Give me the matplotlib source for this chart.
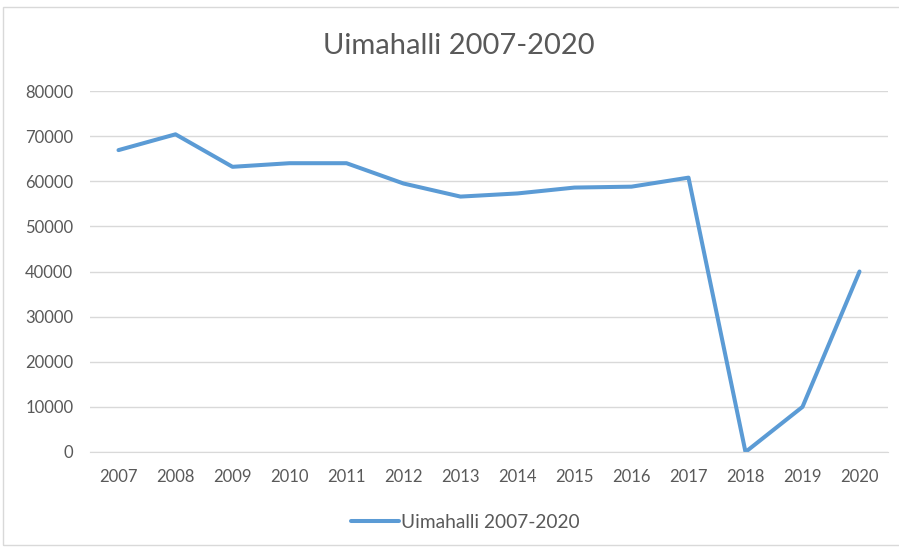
import matplotlib.pyplot as plt
from matplotlib.patches import Rectangle

years = ["2007", "2008", "2009", "2010", "2011", "2012", "2013",
         "2014", "2015", "2016", "2017", "2018", "2019", "2020"]
visitors = [66900, 70400, 63200, 64000, 64000, 59500, 56600,
            57300, 58600, 58800, 60800, 0, 10000, 40000]
series_name = "Uimahalli 2007-2020"

plt.rcParams["font.family"] = ["Lato", "DejaVu Sans"]

fig = plt.figure(figsize=(8.99, 5.49), dpi=100)
fig.patch.set_facecolor("white")

# thin chart-area frame
fig.patches.append(Rectangle((3 / 899, 4 / 549), 1.0, 1 - 11 / 549,
                             transform=fig.transFigure, fill=False,
                             edgecolor="#D9D9D9", linewidth=1))

ax = fig.add_axes([90 / 899, (549 - 452) / 549, 798 / 899, 361 / 549])
x = range(len(years))
ax.plot(x, visitors, color="#5B9BD5", linewidth=2.9,
        solid_joinstyle="round", solid_capstyle="round", label=series_name)

ax.set_xlim(-0.5, len(years) - 0.5)
ax.set_ylim(0, 80000)
ax.set_yticks(range(0, 80001, 10000))
ax.set_xticks(list(x))
ax.set_xticklabels(years)
ax.grid(axis="y", color="#D9D9D9", linewidth=1)
ax.set_axisbelow(True)
for side in ["top", "right", "left"]:
    ax.spines[side].set_visible(False)
ax.spines["bottom"].set_color("#D9D9D9")
ax.tick_params(length=0, labelsize=12, labelcolor="#595959")
ax.tick_params(axis="y", pad=12)
ax.tick_params(axis="x", pad=12)

fig.text(459 / 899, 1 - 46 / 549, series_name, ha="center", va="center",
         fontsize=21, color="#595959")

fig.legend(loc="center", bbox_to_anchor=(465 / 899, 1 - 522 / 549),
           frameon=False, fontsize=13.8, labelcolor="#595959",
           handlelength=2.5, handletextpad=0.1)

fig.savefig("out.png", dpi=100)
